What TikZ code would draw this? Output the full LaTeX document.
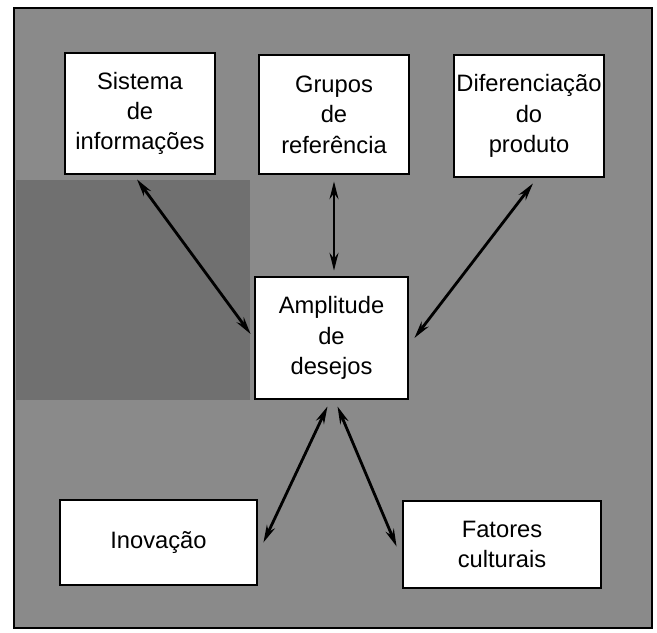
\documentclass[tikz,border=0pt]{standalone}
\usepackage{fontspec}
\setmainfont{Liberation Sans}
\usetikzlibrary{arrows.meta}
\tikzset{
  box/.style={draw=black, line width=1.6pt, fill=white, align=center, inner sep=0pt,
    font=\fontsize{13.5}{17.3}\selectfont},
  link/.style={line width=1.6pt, {Stealth[length=10pt,width=5pt]}-{Stealth[length=10pt,width=5pt]}}
}
\begin{document}
\begin{tikzpicture}[x=0.02cm,y=-0.02cm]
\useasboundingbox (0,0) rectangle (657,633);
\draw[line width=1.6pt, fill=black!46] (14,8) rectangle (652,628);
\fill[black!56] (16,180) rectangle (250,400);
\node[box, minimum width=150*0.02cm, minimum height=121*0.02cm] (sis) at (140,113.5) {Sistema\\de\\informações};
\node[box, minimum width=150*0.02cm, minimum height=119*0.02cm] (gru) at (334,114.5) {Grupos\\de\\referência};
\node[box, minimum width=150*0.02cm, minimum height=122*0.02cm] (dif) at (529,116) {Diferenciação\\do\\produto};
\node[box, minimum width=153*0.02cm, minimum height=122*0.02cm] (amp) at (331.5,338) {Amplitude\\de\\desejos};
\node[box, minimum width=197*0.02cm, minimum height=85*0.02cm] (ino) at (158.5,542.5) {Inovação};
\node[box, minimum width=198*0.02cm, minimum height=87*0.02cm] (fat) at (502,544.5) {Fatores\\culturais};
\draw[link] ([xshift=-3*0.02cm,yshift=-4*0.02cm]sis.south) -- ([xshift=-3*0.02cm,yshift=4*0.02cm]amp.west);
\draw[link] ([yshift=-6*0.02cm]gru.south) -- ([yshift=5*0.02cm]gru.south |- amp.north);
\draw[link] ([xshift=4*0.02cm,yshift=-5*0.02cm]dif.south) -- ([xshift=5*0.02cm]amp.east);
\draw[link] ([xshift=-4*0.02cm,yshift=-6*0.02cm]amp.south) -- ([xshift=5*0.02cm]ino.east);
\draw[link] ([xshift=6*0.02cm,yshift=-6*0.02cm]amp.south) -- ([xshift=-5*0.02cm,yshift=-2*0.02cm]fat.west);
\end{tikzpicture}
\end{document}
